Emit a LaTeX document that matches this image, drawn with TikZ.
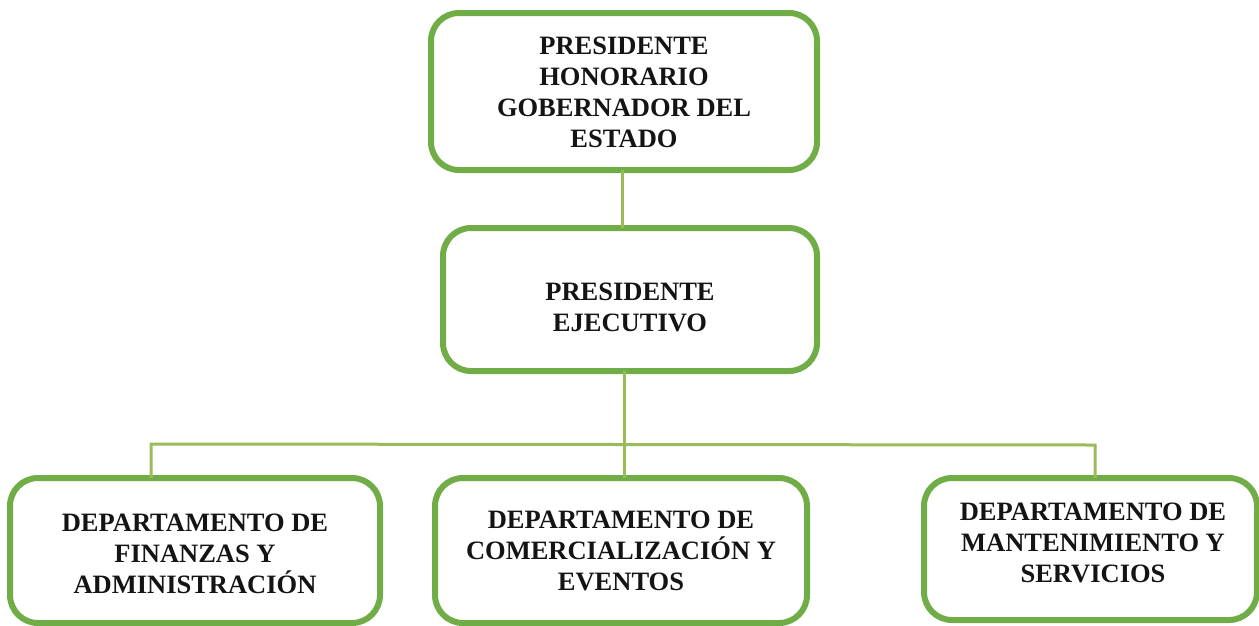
\documentclass[tikz,border=0pt]{standalone}
\usepackage{fontspec}
\setmainfont{Liberation Serif}
\definecolor{boxgreen}{HTML}{70AD47}
\definecolor{linegreen}{HTML}{9BBB59}
\definecolor{txt}{HTML}{141414}
\begin{document}
\begin{tikzpicture}[x=1pt,y=-1pt,
  orgbox/.style={draw=boxgreen, line width=6pt, rounded corners=28pt, fill=white, inner sep=0pt, outer sep=0pt},
  lbl/.style={align=center, text=txt, inner sep=0pt, font=\fontsize{26.5}{31}\selectfont\bfseries},
  conn/.style={draw=linegreen, line width=3pt}]
\useasboundingbox (0,0) rectangle (1259,625);
\coordinate (bus) at (624,445);
\coordinate (j1) at (151,444);
\coordinate (j3) at (1095,445);
% boxes
\node[orgbox, minimum width=386pt, minimum height=157pt] (top) at (624,91.5) {};
\node[orgbox, minimum width=374pt, minimum height=143pt] (mid) at (630,299.5) {};
\node[orgbox, minimum width=370pt, minimum height=145pt] (d1) at (195,550.5) {};
\node[orgbox, minimum width=372pt, minimum height=145pt] (d2) at (621,550.5) {};
\node[orgbox, minimum width=333pt, minimum height=142pt] (d3) at (1090.5,549) {};
% connectors
\draw[conn] (top.south -| 622,0) -- (mid.north -| 622,0);
\draw[conn] (mid.south -| bus) -- (d2.north -| bus);
\draw[conn] (j1 |- d1.north) -- (j1) -- (j3) -- (j3 |- d3.north);
% labels
\node[lbl] (topt) at (624,92) {PRESIDENTE\\HONORARIO\\GOBERNADOR DEL\\ESTADO};
\node[lbl] (midt) at (630,307) {PRESIDENTE\\EJECUTIVO};
\node[lbl] (d1t) at (195,554) {DEPARTAMENTO DE\\FINANZAS Y\\ADMINISTRACIÓN};
\node[lbl] (d2t) at (621,551) {DEPARTAMENTO DE\\COMERCIALIZACIÓN Y\\EVENTOS};
\node[lbl] (d3t) at (1093,543) {DEPARTAMENTO DE\\MANTENIMIENTO Y\\SERVICIOS};
\end{tikzpicture}
\end{document}
